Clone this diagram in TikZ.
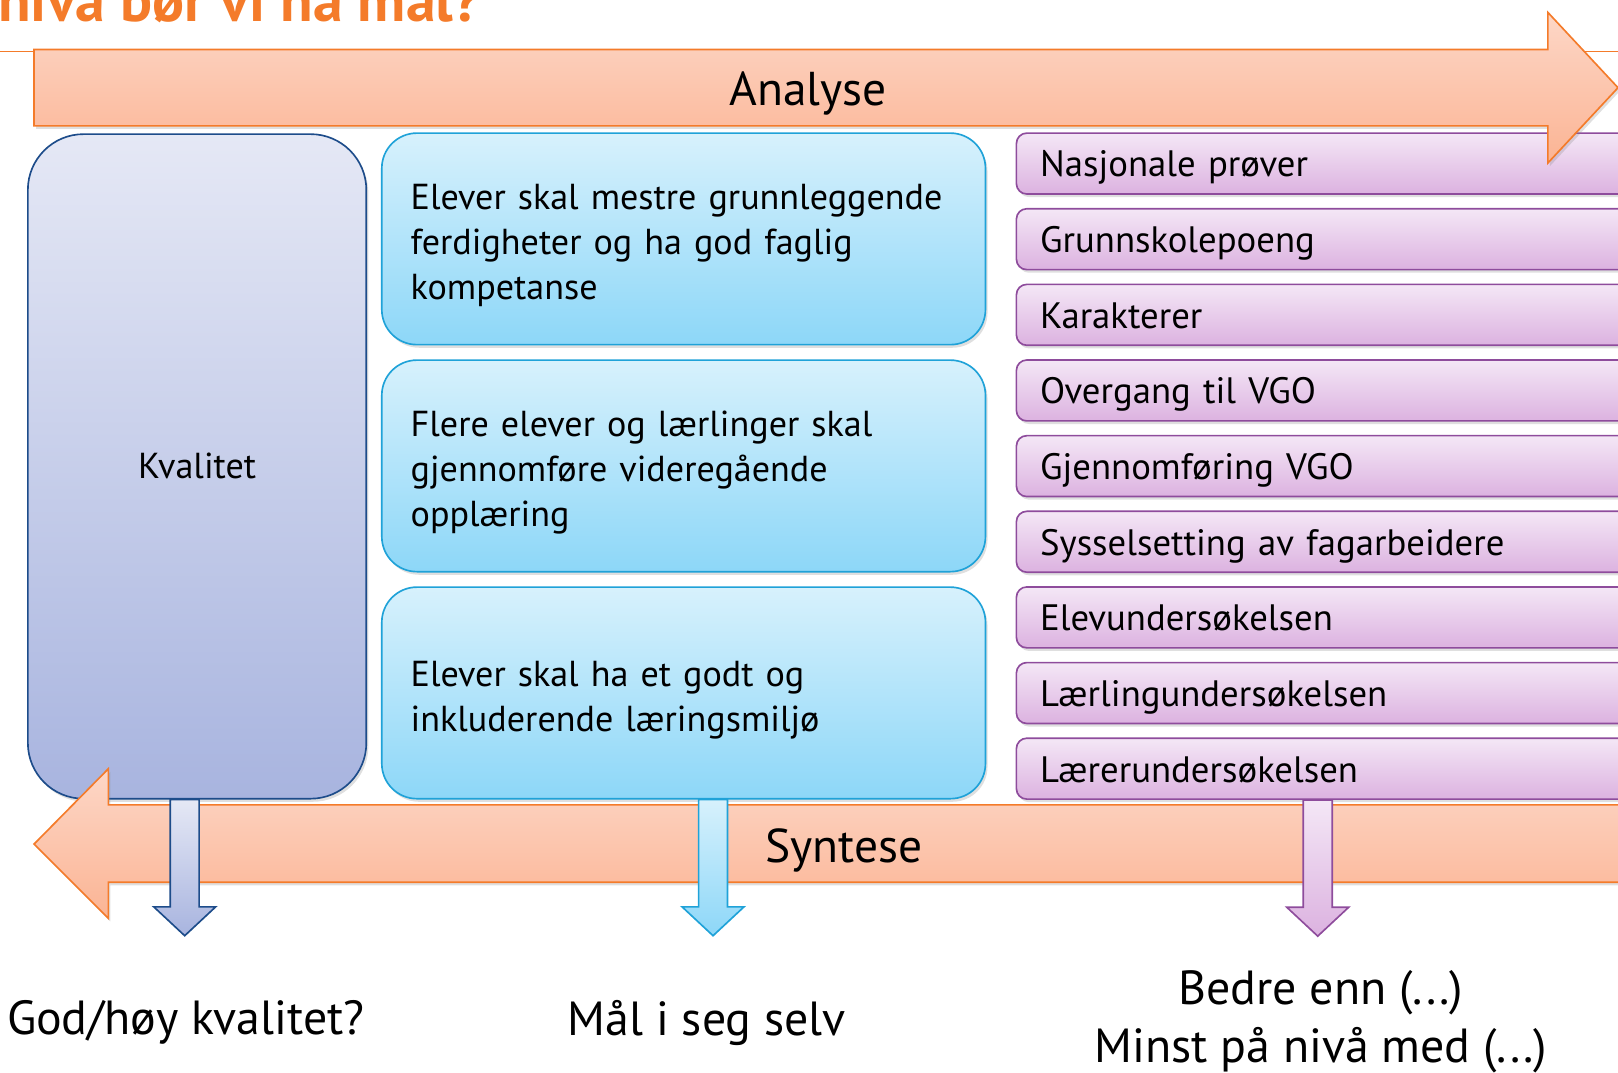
\documentclass[tikz,border=0pt]{standalone}
\usepackage{fontspec}
\setmainfont{PT Sans}
\usetikzlibrary{shadows}

\definecolor{orangeline}{HTML}{F47B2A}
\definecolor{orangetop}{HTML}{FDD7C7}
\definecolor{orangebot}{HTML}{FBB494}
\definecolor{kvline}{HTML}{1D4C8A}
\definecolor{kvtop}{HTML}{E5E8F5}
\definecolor{kvbot}{HTML}{A8B4DF}
\definecolor{blline}{HTML}{1FA2D8}
\definecolor{bltop}{HTML}{D7F1FC}
\definecolor{blbot}{HTML}{8DD7F8}
\definecolor{puline}{HTML}{8E4C9C}
\definecolor{putop}{HTML}{F4E7F6}
\definecolor{pubot}{HTML}{DCB2E0}

\tikzset{
  shade/.style={drop shadow={opacity=0.25,shadow xshift=1pt,shadow yshift=-1.5pt}},
  kvbox/.style={draw=kvline,line width=0.8pt,rounded corners=27pt,top color=kvtop,bottom color=kvbot,
    minimum width=164pt,minimum height=322pt,inner sep=0pt,shade,font=\fontsize{17.5}{21.75}\selectfont},
  malbox/.style={draw=blline,line width=0.8pt,rounded corners=17pt,top color=bltop,bottom color=blbot,
    text width=264.5pt,inner xsep=14pt,minimum height=102.5pt,text height=19pt,align=left,shade,
    font=\fontsize{17.5}{21.75}\selectfont},
  indbox/.style={draw=puline,line width=0.8pt,rounded corners=5pt,top color=putop,bottom color=pubot,
    text width=284.5pt,inner xsep=11.5pt,minimum height=29.5pt,text height=16pt,text depth=3pt,align=left,shade,
    font=\fontsize{17.8}{21.75}\selectfont},
  bigarrow/.style={draw=orangeline,line width=0.8pt,top color=orangetop,bottom color=orangebot,shade},
  arrowtext/.style={font=\fontsize{23}{27}\selectfont,yshift=-2pt},
  asktext/.style={font=\fontsize{23.2}{28}\selectfont,yshift=-2pt,align=center},
  kvpil/.style={draw=kvline,line width=0.8pt,top color=kvtop,bottom color=kvbot},
  blpil/.style={draw=blline,line width=0.8pt,top color=bltop,bottom color=blbot},
  pupil/.style={draw=puline,line width=0.8pt,top color=putop,bottom color=pubot},
}

\begin{document}
\begin{tikzpicture}[x=0.5pt,y=-0.5pt]
        \clip (0,0) rectangle (1568,1039);

        % title and rule
        \node[anchor=base west,inner sep=0pt,text=orangeline,font=\fontsize{29}{34}\selectfont\bfseries] (title) at (-2,21) {nivå bør vi ha mål?};
        \draw[orangeline,line width=0.8pt] (0,50) -- (1568,50);

        % the quality box
        \node[kvbox] (kval) at (191,452) {Kvalitet};

        % the goals
        \foreach \i/\txt in {
            1/Elever skal mestre grunnleggende\\ferdigheter og ha god faglig\\kompetanse,
            2/Flere elever og lærlinger skal\\gjennomføre videregående\\opplæring,
            3/Elever skal ha et godt og\\inkluderende læringsmiljø}
                \node[malbox] (mal\i) at (662.5,{231.5+220*(\i-1)}) {\txt};

        % the indicators
        \foreach \i/\txt in {
            1/Nasjonale prøver,
            2/Grunnskolepoeng,
            3/Karakterer,
            4/Overgang til VGO,
            5/Gjennomføring VGO,
            6/Sysselsetting av fagarbeidere,
            7/Elevundersøkelsen,
            8/Lærlingundersøkelsen,
            9/Lærerundersøkelsen}
                \node[indbox] (ind\i) at (1292.5,{158.5+73.3*(\i-1)}) {\txt};

        % analyse and syntese arrows
        \draw[bigarrow] (33,48) -- (1500,48) -- (1500,12) -- (1568,85) -- (1500,158) -- (1500,122) -- (33,122) -- cycle;
        \draw[bigarrow] (1600,780) -- (105,780) -- (105,745) -- (33,818) -- (105,890) -- (105,855) -- (1600,855) -- cycle;
        \node[arrowtext] (analyse) at (783,87) {Analyse};
        \node[arrowtext] (syntese) at (818,820) {Syntese};

        % arrows down
        \path (kval.south) ++(-12,0) coordinate (kvtop);
        \path (mal3.south) ++(28.5,0) coordinate (bltop);
        \path (ind9.south) ++(-15.5,0) coordinate (putop);
        \foreach \c/\s in {kvtop/kvpil, bltop/blpil, putop/pupil}
                \draw[\s] (\c) ++(-14,0) -- ++(28,0) -- ++(0,104) -- ++(16,0) -- ++(-30,28) -- ++(-30,-28) -- ++(16,0) -- cycle;

        % the questions
        \node[asktext] (god) at (180,987) {God/høy kvalitet?};
        \node[asktext] (egen) at (685,987) {Mål i seg selv};
        \node[asktext] (bedre) at (1280,986) {Bedre enn (...)\\Minst på nivå med (...)};
\end{tikzpicture}
\end{document}
